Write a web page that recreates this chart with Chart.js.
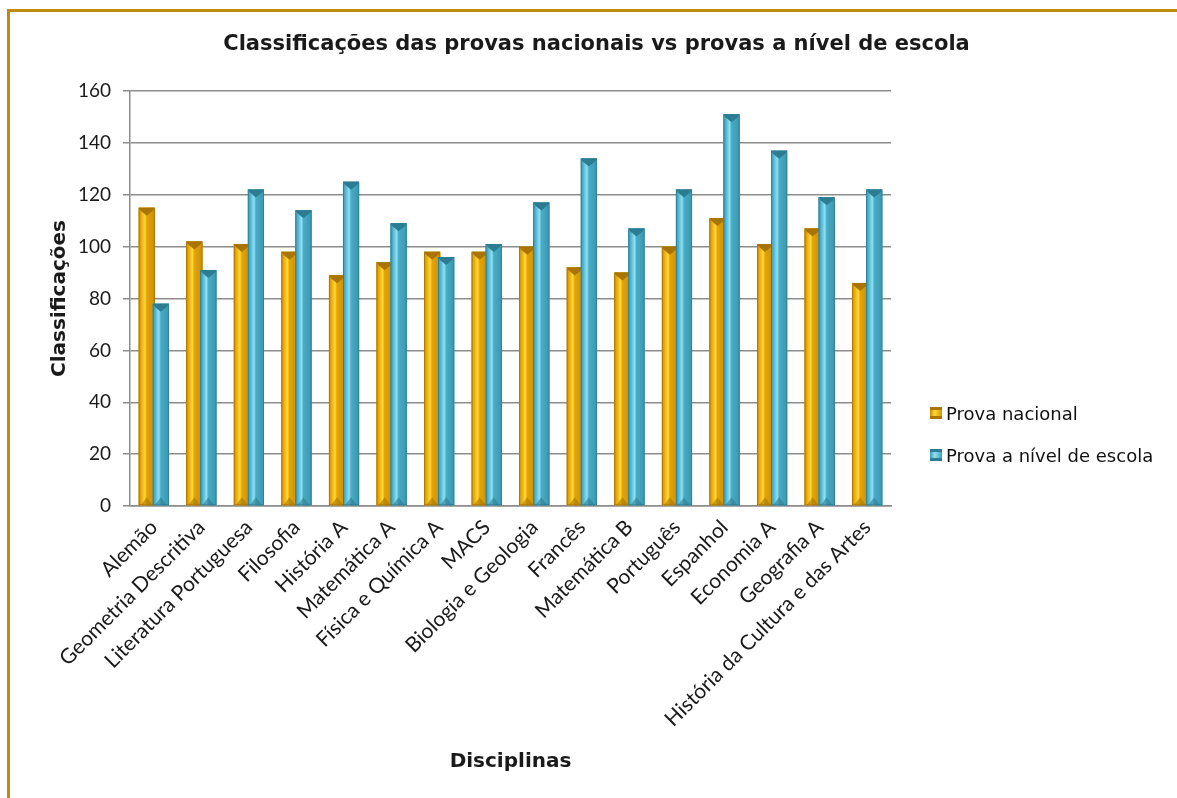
<!DOCTYPE html>
<html>
<head>
<meta charset="utf-8">
<title>Classificações das provas nacionais vs provas a nível de escola</title>
<script src="https://cdn.jsdelivr.net/npm/chart.js@4.4.1/dist/chart.umd.min.js"></script>
<style>
    html, body { margin: 0; padding: 0; background: #fff; }
    #wrap { position: relative; width: 1177px; height: 798px; overflow: hidden; }
    #frame {
        position: absolute; left: 7px; top: 9px; width: 1300px; height: 900px;
        border-left: 3px solid #c08a0c; border-top: 3px solid #c08a0c;
        pointer-events: none;
    }
    #legend {
        position: absolute; left: 930px; top: 392px;
        font-family: "DejaVu Sans", sans-serif; font-size: 18px; color: #111;
    }
    #legend .item { display: flex; align-items: center; height: 42px; }
    #legend .swatch { width: 12px; height: 12px; margin-right: 4px; }
</style>
</head>
<body>
<div id="wrap">
    <canvas id="notasChart" width="1177" height="798"></canvas>
    <div id="frame"></div>
    <div id="legend"></div>
</div>
<script>
const chartTitle = 'Classificações das provas nacionais vs provas a nível de escola';
const disciplinas = [
    'Alemão', 'Geometria Descritiva', 'Literatura Portuguesa', 'Filosofia',
    'História A', 'Matemática A', 'Física e Química A', 'MACS',
    'Biologia e Geologia', 'Francês', 'Matemática B', 'Português',
    'Espanhol', 'Economia A', 'Geografia A', 'História da Cultura e das Artes'
];
const provaNacional = [115, 102, 101, 98, 89, 94, 98, 98, 100, 92, 90, 100, 111, 101, 107, 86];
const provaEscola = [78, 91, 122, 114, 125, 109, 96, 101, 117, 134, 107, 122, 151, 137, 119, 122];
const yTicks = [0, 20, 40, 60, 80, 100, 120, 140, 160];

// shading for the bevelled bars: edge, mid, highlight, dark side, cap
const palettes = [
    { base: '#e4a40a', edge: '#c8890a', light: '#ffd934', dark: '#d29506', cap: '#a97400' },
    { base: '#4bacc6', edge: '#3b97b0', light: '#8ce2f6', dark: '#3f9db6', cap: '#2c7d93' }
];

// repaint each bar with a glassy vertical gradient and a bevelled top
const bevelPlugin = {
    id: 'bevel',
    afterDatasetsDraw(chart) {
        const ctx = chart.ctx;
        ctx.save();
        chart.data.datasets.forEach((ds, di) => {
            const pal = palettes[di];
            chart.getDatasetMeta(di).data.forEach(bar => {
                const w = bar.width;
                const left = bar.x - w / 2;
                const top = bar.y;
                const h = bar.base - bar.y;
                const g = ctx.createLinearGradient(left, 0, left + w, 0);
                g.addColorStop(0, pal.edge);
                g.addColorStop(0.12, pal.base);
                g.addColorStop(0.38, pal.light);
                g.addColorStop(0.5, pal.base);
                g.addColorStop(0.85, pal.dark);
                g.addColorStop(1, pal.edge);
                ctx.fillStyle = g;
                ctx.fillRect(left, top, w, h);

                const b = Math.min(6, h / 2);
                ctx.fillStyle = pal.cap;
                ctx.beginPath();
                ctx.moveTo(left, top);
                ctx.lineTo(left + w, top);
                ctx.lineTo(left + w - 2, top + b * 0.5);
                ctx.lineTo(bar.x, top + b + 2);
                ctx.lineTo(left + 2, top + b * 0.5);
                ctx.closePath();
                ctx.fill();

                // darker foot
                ctx.globalAlpha = 0.6;
                ctx.beginPath();
                ctx.moveTo(left + 2, bar.base);
                ctx.lineTo(bar.x, bar.base - b - 2);
                ctx.lineTo(left + w - 2, bar.base);
                ctx.closePath();
                ctx.fill();
                ctx.globalAlpha = 1;

                ctx.strokeStyle = pal.cap;
                ctx.lineWidth = 0.8;
                ctx.strokeRect(left + 0.4, top + 0.4, w - 0.8, h - 0.8);
            });
        });
        ctx.restore();
    }
};

// title centred on the whole canvas, not just the plot
const pageTitle = {
    id: 'pageTitle',
    afterDraw(chart) {
        const ctx = chart.ctx;
        ctx.save();
        ctx.font = 'bold 21px "DejaVu Sans"';
        ctx.fillStyle = '#1a1a1a';
        ctx.textAlign = 'center';
        ctx.textBaseline = 'middle';
        ctx.fillText(chartTitle, chart.width / 2 + 8, 45);
        ctx.restore();
    }
};

const chart = new Chart(document.getElementById('notasChart').getContext('2d'), {
    type: 'bar',
    data: {
        labels: disciplinas,
        datasets: [{
            label: 'Prova nacional',
            data: provaNacional,
            backgroundColor: palettes[0].base,
            categoryPercentage: 0.59,
            barPercentage: 1.15
        }, {
            label: 'Prova a nível de escola',
            data: provaEscola,
            backgroundColor: palettes[1].base,
            categoryPercentage: 0.59,
            barPercentage: 1.15
        }]
    },
    options: {
        responsive: false,
        animation: false,
        layout: {
            padding: { left: 10, right: 286, top: 91, bottom: 10 }
        },
        plugins: {
            legend: { display: false },
            tooltip: { enabled: false },
            title: { display: false }
        },
        scales: {
            x: {
                grid: { display: false },
                border: { display: true, color: '#8c8c8c', width: 1.5 },
                ticks: {
                    color: '#1a1a1a',
                    font: { family: 'Lato', size: 21 },
                    minRotation: 45,
                    maxRotation: 45,
                    autoSkip: false,
                    padding: 1
                },
                title: {
                    display: true,
                    text: 'Disciplinas',
                    color: '#1a1a1a',
                    font: { family: 'DejaVu Sans', size: 20, weight: 'bold' },
                    padding: { top: 0, bottom: 14 }
                },
                afterFit(scale) { scale.height = 282; }
            },
            y: {
                min: 0,
                max: 160,
                afterBuildTicks(scale) { scale.ticks = yTicks.map(v => ({ value: v })); },
                grid: { color: '#8c8c8c', lineWidth: 1.5, tickLength: 7 },
                border: { display: true, color: '#8c8c8c', width: 1.5 },
                ticks: {
                    color: '#1a1a1a',
                    font: { family: 'Lato', size: 19 },
                    padding: 12
                },
                title: {
                    display: true,
                    text: 'Classificações',
                    color: '#1a1a1a',
                    font: { family: 'DejaVu Sans', size: 20, weight: 'bold' },
                    padding: { top: 38, bottom: 0 }
                },
                afterFit(scale) { scale.width = 120; }
            }
        }
    },
    plugins: [bevelPlugin, pageTitle]
});

// legend built from the datasets
const legendEl = document.getElementById('legend');
chart.data.datasets.forEach((ds, i) => {
    const pal = palettes[i];
    const item = document.createElement('div');
    item.className = 'item';
    const sw = document.createElement('span');
    sw.className = 'swatch';
    sw.style.background = 'linear-gradient(90deg, ' + pal.edge + ', ' + pal.light + ' 40%, ' + pal.dark + ')';
    sw.style.boxShadow = 'inset 0 3px 0 ' + pal.cap + ', inset 0 -3px 0 ' + pal.cap;
    const txt = document.createElement('span');
    txt.textContent = ds.label;
    item.appendChild(sw);
    item.appendChild(txt);
    legendEl.appendChild(item);
});
</script>
</body>
</html>
